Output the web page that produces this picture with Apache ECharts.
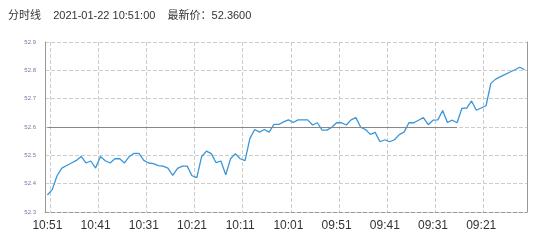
<!DOCTYPE html>
<html>
<head>
<meta charset="utf-8">
<script src="https://cdn.jsdelivr.net/npm/echarts@6/dist/echarts.min.js"></script>
<style>
html,body{margin:0;padding:0;background:#fff;}
#chart{width:542px;height:243px;}
</style>
</head>
<body>
<div id="chart"></div>
<script>
// ---- data ----
const titleText = '分时线    2021-01-22 10:51:00    最新价：52.3600';
const times = [
  "10:51","10:50","10:49","10:48","10:47","10:46","10:45","10:44","10:43","10:42",
  "10:41","10:40","10:39","10:38","10:37","10:36","10:35","10:34","10:33","10:32",
  "10:31","10:30","10:29","10:28","10:27","10:26","10:25","10:24","10:23","10:22",
  "10:21","10:20","10:19","10:18","10:17","10:16","10:15","10:14","10:13","10:12",
  "10:11","10:10","10:09","10:08","10:07","10:06","10:05","10:04","10:03","10:02",
  "10:01","10:00","09:59","09:58","09:57","09:56","09:55","09:54","09:53","09:52",
  "09:51","09:50","09:49","09:48","09:47","09:46","09:45","09:44","09:43","09:42",
  "09:41","09:40","09:39","09:38","09:37","09:36","09:35","09:34","09:33","09:32",
  "09:31","09:30","09:29","09:28","09:27","09:26","09:25","09:24","09:23","09:22",
  "09:21","09:20","09:19","09:18","09:17","09:16","09:15","09:14","09:13","09:12"
];
const prices = [
  52.360, 52.379, 52.428, 52.455, 52.464, 52.473, 52.482, 52.496, 52.473, 52.480,
  52.455, 52.496, 52.481, 52.473, 52.488, 52.488, 52.473, 52.496, 52.507, 52.507,
  52.482, 52.473, 52.471, 52.464, 52.462, 52.455, 52.429, 52.454, 52.462, 52.462,
  52.428, 52.421, 52.496, 52.515, 52.506, 52.474, 52.480, 52.431, 52.488, 52.506,
  52.488, 52.481, 52.559, 52.591, 52.582, 52.591, 52.582, 52.609, 52.609, 52.618,
  52.625, 52.616, 52.625, 52.625, 52.625, 52.607, 52.615, 52.589, 52.589, 52.599,
  52.615, 52.615, 52.607, 52.625, 52.633, 52.599, 52.591, 52.574, 52.581, 52.548,
  52.555, 52.548, 52.555, 52.573, 52.582, 52.615, 52.615, 52.624, 52.633, 52.608,
  52.624, 52.625, 52.658, 52.616, 52.624, 52.615, 52.666, 52.667, 52.692, 52.659,
  52.667, 52.675, 52.754, 52.769, 52.778, 52.786, 52.794, 52.802, 52.811, 52.802
];
const prevClose = 52.6;
const prevCloseFrom = "10:51";
const prevCloseTo = "09:26";
const yMin = 52.3, yMax = 52.9, yStep = 0.1;

// ---- chart ----
const chart = echarts.init(document.getElementById('chart'), null, {renderer: 'canvas'});
chart.setOption({
  animation: false,
  backgroundColor: '#fff',
  title: {
    text: titleText,
    left: 8, top: 10, padding: 0,
    textStyle: {fontSize: 11, fontWeight: 'normal', color: '#333',
      fontFamily: '"Liberation Sans", "Noto Sans CJK SC", sans-serif'}
  },
  grid: {left: 45, right: 15, top: 42, bottom: 31, containLabel: false},
  xAxis: {
    type: 'category',
    data: times,
    boundaryGap: true,
    axisLine: {show: true, lineStyle: {color: '#999', type: 'dashed', width: 1}},
    axisTick: {show: false},
    axisLabel: {
      interval: 9, color: '#333', fontSize: 12, margin: 8,
      fontFamily: '"Liberation Sans", Arial, sans-serif'
    },
    splitLine: {
      show: true,
      interval: function (i) { return i % 10 === 1; },
      lineStyle: {color: '#ccc', type: 'dashed', width: 1}
    }
  },
  yAxis: [{
    type: 'value',
    min: yMin, max: yMax, interval: yStep,
    axisLine: {show: true, lineStyle: {color: '#999', width: 1}},
    axisTick: {show: false},
    axisLabel: {
      color: '#7777aa', fontSize: 6, margin: 9,
      formatter: function (v) { return v.toFixed(1); },
      fontFamily: '"Liberation Sans", Arial, sans-serif'
    },
    splitLine: {show: true, lineStyle: {color: '#ccc', type: 'dashed', width: 1}}
  }, {
    type: 'value',
    position: 'right',
    min: yMin, max: yMax, interval: yStep,
    axisLine: {show: true, lineStyle: {color: '#999', width: 1}},
    axisTick: {show: false},
    axisLabel: {show: false},
    splitLine: {show: false}
  }],
  series: [{
    type: 'line',
    data: prices,
    showSymbol: false,
    symbol: 'none',
    smooth: false,
    lineStyle: {color: '#3a96d8', width: 1.3},
    itemStyle: {color: '#3a96d8'},
    markLine: {
      silent: true,
      symbol: ['none', 'none'],
      label: {show: false},
      lineStyle: {color: '#888', type: 'solid', width: 1},
      data: [[{coord: [prevCloseFrom, prevClose]}, {coord: [prevCloseTo, prevClose]}]]
    }
  }]
});
</script>
</body>
</html>
